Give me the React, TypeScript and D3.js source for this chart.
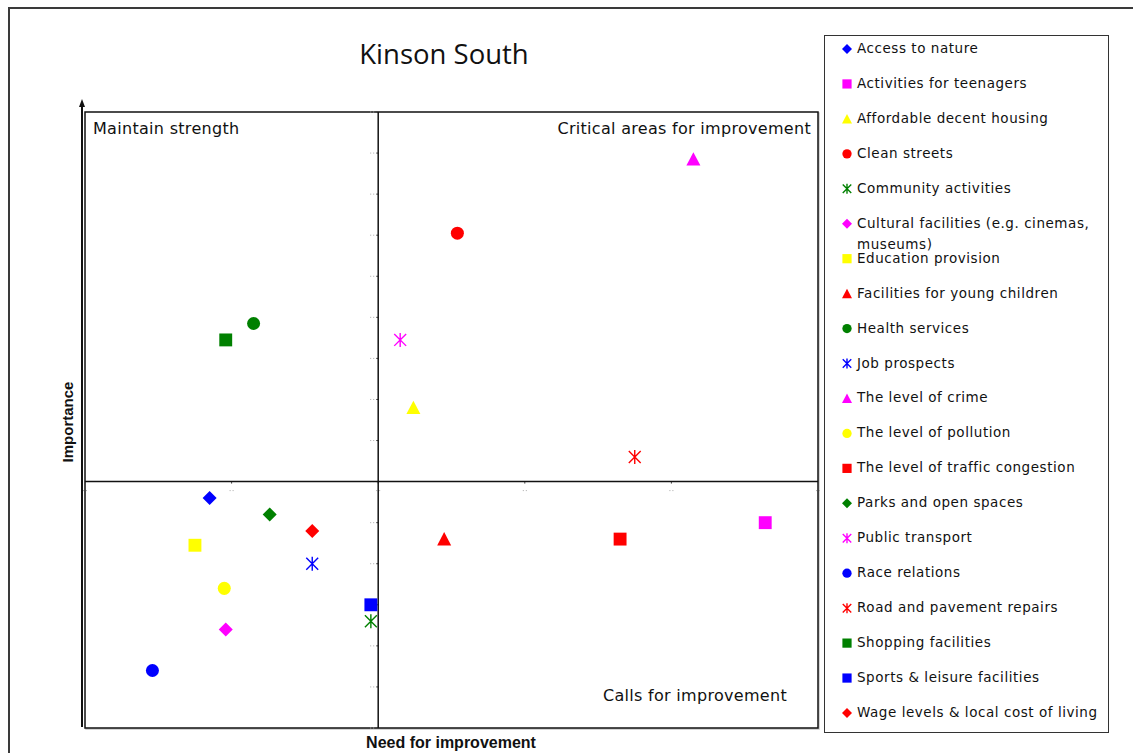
import React, { useEffect, useRef } from 'react';
import * as d3 from 'd3';

// categories and values (x = need for improvement, y = importance)
const categories = [
  'Access to nature',
  'Activities for teenagers',
  'Affordable decent housing',
  'Clean streets',
  'Community activities',
  'Cultural facilities (e.g. cinemas, museums)',
  'Education provision',
  'Facilities for young children',
  'Health services',
  'Job prospects',
  'The level of crime',
  'The level of pollution',
  'The level of traffic congestion',
  'Parks and open spaces',
  'Public transport',
  'Race relations',
  'Road and pavement repairs',
  'Shopping facilities',
  'Sports & leisure facilities',
  'Wage levels & local cost of living'
];
const needValues = [8.5, 46.4, 22.4, 25.4, 19.5, 9.6, 7.5, 24.5, 11.5, 15.5, 41.5, 9.5, 36.5, 12.6, 21.5, 4.6, 37.5, 9.6, 19.5, 15.5];
const importanceValues = [11.2, 10.0, 15.6, 24.1, 5.2, 4.8, 8.9, 9.2, 19.7, 8.0, 27.7, 6.8, 9.2, 10.4, 18.9, 2.8, 13.2, 18.9, 6.0, 9.6];
const markerShapes = ['diamond', 'square', 'triangle', 'circle', 'star', 'diamond', 'square', 'triangle', 'circle', 'star',
  'triangle', 'circle', 'square', 'diamond', 'star', 'circle', 'star', 'square', 'square', 'diamond'];
const markerColors = ['#0000ff', '#ff00ff', '#ffff00', '#ff0000', '#008000', '#ff00ff', '#ffff00', '#ff0000', '#008000', '#0000ff',
  '#ff00ff', '#ffff00', '#ff0000', '#008000', '#ff00ff', '#0000ff', '#ff0000', '#008000', '#0000ff', '#ff0000'];

const xTicks = [0, 10, 20, 30, 40, 50];
const yTicks = d3.range(0, 31, 2);
const xCross = 20;
const yCross = 12;

function drawMarker(g, shape, color, cx, cy, s) {
  const h = s / 2;
  if (shape === 'diamond') {
    g.append('path').attr('d', `M${cx},${cy - h}L${cx + h},${cy}L${cx},${cy + h}L${cx - h},${cy}Z`).attr('fill', color);
  } else if (shape === 'square') {
    const q = h * 0.92;
    g.append('rect').attr('x', cx - q).attr('y', cy - q).attr('width', 2 * q).attr('height', 2 * q).attr('fill', color);
  } else if (shape === 'triangle') {
    g.append('path').attr('d', `M${cx},${cy - h}L${cx + h},${cy + h * 0.9}L${cx - h},${cy + h * 0.9}Z`).attr('fill', color);
  } else if (shape === 'circle') {
    g.append('circle').attr('cx', cx).attr('cy', cy).attr('r', h * 0.93).attr('fill', color);
  } else {
    const k = h * 0.85;
    g.append('path')
      .attr('d', `M${cx - k},${cy - k}L${cx + k},${cy + k}M${cx + k},${cy - k}L${cx - k},${cy + k}M${cx},${cy - h}L${cx},${cy + h}`)
      .attr('stroke', color).attr('stroke-width', 1.4).attr('fill', 'none');
  }
}

export default function App() {
  const svgRef = useRef(null);

  useEffect(() => {
    document.body.style.margin = '0';
    const svg = d3.select(svgRef.current);
    svg.selectAll('*').remove();

    const left = 85, right = 818, top = 112, bottom = 728;
    const x = d3.scaleLinear().domain([0, 50]).range([left, right]);
    const y = d3.scaleLinear().domain([0, 30]).range([bottom, top]);

    // outer frame
    svg.append('rect').attr('x', 9).attr('y', 8).attr('width', 1140).attr('height', 780)
      .attr('fill', 'white').attr('stroke', '#3a3a3a').attr('stroke-width', 2);

    // title
    svg.append('text').attr('x', 444).attr('y', 64).attr('text-anchor', 'middle')
      .style('font-family', '"Open Sans", sans-serif').style('font-size', '27.5px').style('font-weight', 500)
      .attr('fill', '#111').text('Kinson South');

    // plot area
    svg.append('rect').attr('x', left + 1).attr('y', top + 1).attr('width', right - left).attr('height', bottom - top)
      .attr('fill', 'none').attr('stroke', '#c8c8c8').attr('stroke-width', 1.5);
    svg.append('rect').attr('x', left).attr('y', top).attr('width', right - left).attr('height', bottom - top)
      .attr('fill', 'white').attr('stroke', '#111').attr('stroke-width', 1.5);

    // y arrow
    svg.append('line').attr('x1', 82).attr('x2', 82).attr('y1', 727).attr('y2', 106)
      .attr('stroke', '#111').attr('stroke-width', 2);
    svg.append('path').attr('d', 'M82,99L85,107L79,107Z').attr('fill', '#111');

    // ticks on the crossing axes
    const tg = svg.append('g');
    yTicks.forEach(t => {
      tg.append('line').attr('x1', x(xCross) - 8).attr('x2', x(xCross) - 3).attr('y1', y(t)).attr('y2', y(t))
        .attr('stroke', '#aaa').attr('stroke-width', 1).attr('stroke-dasharray', '1,2');
      tg.append('line').attr('x1', x(xCross) - 2).attr('x2', x(xCross)).attr('y1', y(t)).attr('y2', y(t))
        .attr('stroke', '#444').attr('stroke-width', 1);
    });
    xTicks.forEach(t => {
      tg.append('line').attr('x1', x(t) - 2).attr('x2', x(t) + 3).attr('y1', y(yCross) + 9).attr('y2', y(yCross) + 9)
        .attr('stroke', '#aaa').attr('stroke-width', 1).attr('stroke-dasharray', '1,2');
      tg.append('line').attr('x1', x(t)).attr('x2', x(t)).attr('y1', y(yCross)).attr('y2', y(yCross) + 2)
        .attr('stroke', '#444').attr('stroke-width', 1);
    });

    // quadrant dividers
    svg.append('line').attr('x1', x(xCross)).attr('x2', x(xCross)).attr('y1', top).attr('y2', bottom)
      .attr('stroke', '#111').attr('stroke-width', 1.5);
    svg.append('line').attr('x1', left).attr('x2', right).attr('y1', y(yCross)).attr('y2', y(yCross))
      .attr('stroke', '#111').attr('stroke-width', 1.5);

    // quadrant labels
    const qStyle = (t) => t.style('font-family', '"DejaVu Sans", sans-serif').style('font-size', '16px')
      .style('letter-spacing', '0.3px').attr('fill', '#111');
    qStyle(svg.append('text').attr('x', 93).attr('y', 134).text('Maintain strength'));
    qStyle(svg.append('text').attr('x', 811).attr('y', 134).attr('text-anchor', 'end').text('Critical areas for improvement'));
    qStyle(svg.append('text').attr('x', 787).attr('y', 701).attr('text-anchor', 'end').text('Calls for improvement'));

    // axis titles
    svg.append('text').attr('x', 451).attr('y', 748).attr('text-anchor', 'middle')
      .style('font-family', '"Liberation Sans", Arial, sans-serif').style('font-weight', 'bold').style('font-size', '16px')
      .attr('fill', '#111').text('Need for improvement');
    svg.append('text').attr('transform', 'translate(73,422) rotate(-90)').attr('text-anchor', 'middle')
      .style('font-family', '"Liberation Sans", Arial, sans-serif').style('font-weight', 'bold').style('font-size', '15px')
      .attr('fill', '#111').text('Importance');

    // points
    const pg = svg.append('g');
    categories.forEach((c, i) => {
      drawMarker(pg, markerShapes[i], markerColors[i], x(needValues[i]), y(importanceValues[i]), 14);
    });

    // legend
    svg.append('rect').attr('x', 824.5).attr('y', 35.5).attr('width', 284).attr('height', 697)
      .attr('fill', 'white').attr('stroke', '#333').attr('stroke-width', 1);
    const lg = svg.append('g');
    const rowY = d3.scaleLinear().domain([0, categories.length - 1]).range([48, 712]);
    const legendText = (xx, yy, s) => lg.append('text').attr('x', xx).attr('y', yy)
      .style('font-family', '"DejaVu Sans", sans-serif').style('font-size', '13.5px')
      .style('letter-spacing', '0.55px').attr('fill', '#111').text(s);
    categories.forEach((c, i) => {
      const cy = rowY(i);
      drawMarker(lg, markerShapes[i], markerColors[i], 847, cy + 1, 10);
      if (c.length > 36) {
        legendText(857, cy + 5, 'Cultural facilities (e.g. cinemas,');
        legendText(857, cy + 26, 'museums)');
      } else {
        legendText(857, cy + 5, c);
      }
    });
  }, []);

  return <svg ref={svgRef} width={1133} height={753} style={{ display: 'block' }} />;
}
